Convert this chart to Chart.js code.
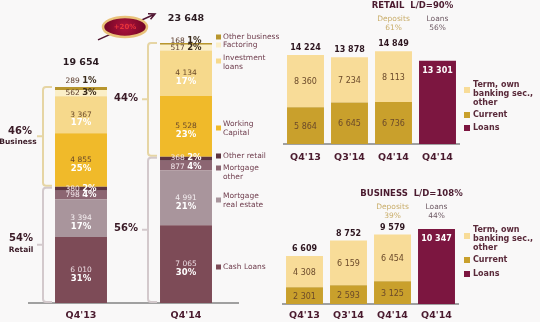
<!DOCTYPE html>
<html>
<head>
<meta charset="utf-8">
<script src="https://cdn.jsdelivr.net/npm/chart.js@4.4.1/dist/chart.umd.min.js"></script>
<style>
  body { margin: 0; background: #f9f8f8; }
  #wrap { position: relative; width: 540px; height: 322px; }
  canvas { position: absolute; left: 0; top: 0; }
</style>
</head>
<body>
<div id="wrap">
  <canvas id="mix" width="540" height="322"></canvas>
  <canvas id="retail" width="540" height="322"></canvas>
  <canvas id="business" width="540" height="322"></canvas>
</div>
<script>
// loan portfolio split
const portfolioQuarters = ["Q4'13", "Q4'14"];
const cashLoans = [6010, 7065];
const mortgageRealEstate = [3394, 4991];
const mortgageOther = [798, 877];
const otherRetail = [380, 368];
const workingCapital = [4855, 5528];
const investmentLoans = [3367, 4134];
const factoring = [562, 517];
const otherBusiness = [289, 168];
const segmentShares = [[31, 30], [17, 21], [4, 4], [2, 2], [25, 23], [17, 17], [3, 2], [1, 1]];
const portfolioTotals = [19654, 23648];
const businessShare = [46, 44];
const retailShare = [54, 56];
const growthLabel = '+20%';

// deposits vs loans
const depositQuarters = ["Q4'13", "Q3'14", "Q4'14", "Q4'14"];
const retailCurrent = [5864, 6645, 6736, null];
const retailTerm = [8360, 7234, 8113, null];
const retailLoans = [null, null, null, 13301];
const retailTotals = [14224, 13878, 14849];
const businessCurrent = [2301, 2593, 3125, null];
const businessTerm = [4308, 6159, 6454, null];
const businessLoans = [null, null, null, 10347];
const businessTotals = [6609, 8752, 9579];

const FONT = "'DejaVu Sans', Verdana, sans-serif";
const font = (size, bold) => (bold ? 'bold ' : '') + size + 'px ' + FONT;
const fmt = v => String(v).replace(/\B(?=(\d{3})+(?!\d))/g, ' ');
const DARK = '#3a1a26';

function pair(ctx, cx, y, num, pct, numColor, pctColor) {
  ctx.font = font(7.5);
  const w1 = ctx.measureText(num).width;
  ctx.font = font(8.5, true);
  const w2 = ctx.measureText(pct).width;
  let x = cx - (w1 + 2.5 + w2) / 2;
  ctx.textAlign = 'left';
  ctx.font = font(7.5); ctx.fillStyle = numColor; ctx.fillText(num, x, y);
  ctx.font = font(8.5, true); ctx.fillStyle = pctColor; ctx.fillText(pct, x + w1 + 2.5, y);
  ctx.textAlign = 'center';
}

function bracket(ctx, x, y1, y2, color) {
  const mid = (y1 + y2) / 2;
  ctx.strokeStyle = color;
  ctx.lineWidth = 2;
  ctx.beginPath();
  ctx.moveTo(x + 9, y1); ctx.lineTo(x + 3, y1);
  ctx.quadraticCurveTo(x, y1, x, y1 + 3);
  ctx.lineTo(x, y2 - 3);
  ctx.quadraticCurveTo(x, y2, x + 3, y2);
  ctx.lineTo(x + 9, y2);
  ctx.moveTo(x, mid); ctx.lineTo(x - 6, mid);
  ctx.stroke();
}

const mixPlugin = {
  id: 'mixNotes',
  afterDatasetsDraw(chart) {
    const ctx = chart.ctx;
    const sets = chart.data.datasets;
    const metas = sets.map((_, i) => chart.getDatasetMeta(i).data);
    ctx.save();
    ctx.textAlign = 'center';
    ctx.textBaseline = 'middle';

    // segment values
    sets.forEach((ds, i) => metas[i].forEach((bar, j) => {
      const num = fmt(ds.data[j]);
      const pct = segmentShares[i][j] + '%';
      const mid = (bar.y + bar.base) / 2;
      if (ds.thin) {
        let y = mid;
        if (i === 7) y = bar.y - [6, 2][j];
        if (i === 3 && j === 1) y = mid - 1;
        if (i === 2 && j === 1) y = mid + 1.5;
        pair(ctx, bar.x, y, num, pct, ds.numColor, ds.pctColor);
      } else {
        ctx.font = font(7.5); ctx.fillStyle = ds.numColor;
        ctx.fillText(num, bar.x, mid);
        ctx.font = font(8.5, true); ctx.fillStyle = ds.pctColor;
        ctx.fillText(pct, bar.x, mid + 8.5);
      }
    }));

    // totals
    metas[7].forEach((bar, j) => {
      ctx.font = font(9.5, true); ctx.fillStyle = '#2a1a20';
      ctx.fillText(fmt(portfolioTotals[j]), bar.x, bar.y - 24);
    });

    // business / retail brackets
    metas[0].forEach((bar, j) => {
      const bx = bar.x - bar.width / 2 - 12;
      const bizTop = metas[7][j].y, bizBot = metas[4][j].base - 1;
      const retTop = metas[3][j].y + 1, retBot = metas[0][j].base - 1;
      bracket(ctx, bx, bizTop, bizBot, '#e6d5a4');
      bracket(ctx, bx, retTop, retBot, '#d3c9cc');
      const bm = (bizTop + bizBot) / 2, rm = (retTop + retBot) / 2;
      ctx.fillStyle = DARK;
      if (j === 0) {
        ctx.font = font(10, true);
        ctx.fillText(businessShare[j] + '%', bx - 23, bm - 5);
        ctx.fillText(retailShare[j] + '%', bx - 22, rm - 6);
        ctx.font = font(7.5, true);
        ctx.fillText('Business', bx - 25, bm + 6);
        ctx.fillText('Retail', bx - 22, rm + 5);
      } else {
        ctx.font = font(10, true);
        ctx.fillText(businessShare[j] + '%', bx - 22, bm - 1);
        ctx.fillText(retailShare[j] + '%', bx - 22, rm - 1);
      }
    });

    // growth arrow
    const a0 = { x: metas[7][0].x + 17, y: metas[7][0].y - 47 };
    const a1 = { x: metas[7][1].x - 31, y: metas[7][1].y - 29 };
    const ang = Math.atan2(a1.y - a0.y, a1.x - a0.x);
    ctx.strokeStyle = '#4e1430'; ctx.lineWidth = 1.5;
    ctx.beginPath();
    ctx.moveTo(a0.x, a0.y); ctx.lineTo(a1.x, a1.y);
    ctx.moveTo(a1.x - 7 * Math.cos(ang - 0.45), a1.y - 7 * Math.sin(ang - 0.45));
    ctx.lineTo(a1.x, a1.y);
    ctx.lineTo(a1.x - 7 * Math.cos(ang + 0.45), a1.y - 7 * Math.sin(ang + 0.45));
    ctx.stroke();
    const ex = (a0.x + a1.x) / 2 - 1.5, ey = (a0.y + a1.y) / 2;
    const g = ctx.createRadialGradient(ex, ey, 2, ex, ey, 22);
    g.addColorStop(0, '#a8123a'); g.addColorStop(1, '#6e0424');
    ctx.fillStyle = g;
    ctx.strokeStyle = '#e9c27a'; ctx.lineWidth = 2.5;
    ctx.beginPath(); ctx.ellipse(ex, ey, 22, 10, 0, 0, Math.PI * 2); ctx.fill(); ctx.stroke();
    ctx.font = font(7, true); ctx.fillStyle = '#e8343a';
    ctx.fillText(growthLabel, ex, ey + 0.5);

    // legend
    const rows = [
      { ds: 7, lines: ['Other business'], y: 37, sq: 37 },
      { ds: 6, lines: ['Factoring'], y: 45, sq: 45 },
      { ds: 5, lines: ['Investment', 'loans'], y: 58, sq: 61 },
      { ds: 4, lines: ['Working', 'Capital'], y: 124, sq: 128 },
      { ds: 3, lines: ['Other retail'], y: 156, sq: 156 },
      { ds: 2, lines: ['Mortgage', 'other'], y: 168, sq: 168 },
      { ds: 1, lines: ['Mortgage', 'real estate'], y: 196, sq: 200 },
      { ds: 0, lines: ['Cash Loans'], y: 267, sq: 267 }
    ];
    ctx.textAlign = 'left';
    ctx.font = font(7.5);
    rows.forEach(r => {
      ctx.fillStyle = sets[r.ds].backgroundColor;
      ctx.fillRect(216, r.sq - 2.5, 5, 5);
      ctx.fillStyle = '#6e3c4c';
      r.lines.forEach((t, k) => ctx.fillText(t, 223, r.y + k * 9.5));
    });
    ctx.restore();
  }
};

new Chart(document.getElementById('mix'), {
  type: 'bar',
  data: {
    labels: portfolioQuarters,
    datasets: [
      { label: 'Cash Loans', data: cashLoans, backgroundColor: '#7d4b57', numColor: '#ecdce2', pctColor: '#ffffff' },
      { label: 'Mortgage real estate', data: mortgageRealEstate, backgroundColor: '#a9959c', numColor: '#f4eef0', pctColor: '#ffffff' },
      { label: 'Mortgage other', data: mortgageOther, backgroundColor: '#8c6672', numColor: '#f4e8ec', pctColor: '#ffffff', thin: true },
      { label: 'Other retail', data: otherRetail, backgroundColor: '#5e3440', numColor: '#f4e8ec', pctColor: '#ffffff', thin: true },
      { label: 'Working Capital', data: workingCapital, backgroundColor: '#f0ba2a', numColor: '#6b4a2a', pctColor: '#ffffff' },
      { label: 'Investment loans', data: investmentLoans, backgroundColor: '#f6d98c', numColor: '#6b4a2a', pctColor: '#ffffff' },
      { label: 'Factoring', data: factoring, backgroundColor: '#fbefc8', numColor: '#5a3a2a', pctColor: '#3a2a1a', thin: true },
      { label: 'Other business', data: otherBusiness, backgroundColor: '#b8962e', numColor: '#5a3a2a', pctColor: '#3a2a1a', thin: true }
    ]
  },
  options: {
    responsive: false,
    animation: false,
    layout: { padding: { left: 28.5, right: 301.5, top: 39.1, bottom: 0 } },
    datasets: { bar: { categoryPercentage: 1, barPercentage: 0.495 } },
    plugins: { legend: { display: false }, tooltip: { enabled: false } },
    scales: {
      x: {
        stacked: true,
        grid: { display: false, drawTicks: false },
        border: { display: true, color: '#a0a0a0', width: 2 },
        ticks: { font: { family: FONT, size: 9.5, weight: 'bold' }, color: '#4a1a2e', padding: 7 },
        afterFit: s => { s.height = 19; }
      },
      y: { stacked: true, display: false, min: 0, max: 24000 }
    }
  },
  plugins: [mixPlugin]
});

const depositPlugin = {
  id: 'depositNotes',
  afterDatasetsDraw(chart, args, o) {
    const ctx = chart.ctx;
    const sets = chart.data.datasets;
    const term = chart.getDatasetMeta(1).data;
    const loan = chart.getDatasetMeta(2).data;
    const li = sets[2].data.findIndex(v => v != null);
    ctx.save();
    ctx.textAlign = 'center';
    ctx.textBaseline = 'middle';
    [0, 1].forEach(d => chart.getDatasetMeta(d).data.forEach((bar, j) => {
      const v = sets[d].data[j];
      if (v == null) return;
      ctx.font = font(8); ctx.fillStyle = '#6b4a2a';
      ctx.fillText(fmt(v), bar.x, (bar.y + bar.base) / 2 + 1);
    }));
    o.totals.forEach((t, j) => {
      ctx.font = font(8, true); ctx.fillStyle = '#2e1620';
      ctx.fillText(fmt(t), term[j].x, term[j].y - 7);
    });
    const lb = loan[li];
    ctx.font = font(8, true); ctx.fillStyle = '#ffffff';
    ctx.fillText(fmt(sets[2].data[li]), lb.x, lb.y + 10);

    // title
    ctx.font = font(8.5, true); ctx.fillStyle = '#4a1a2e';
    ctx.fillText(o.title, (term[li - 1].x + lb.x) / 2 - 3, o.titleY);
    ctx.font = font(7.5);
    ctx.fillStyle = '#c9ad6a';
    ctx.fillText('Deposits', term[li - 1].x, o.subY);
    ctx.fillText(o.depositShare + '%', term[li - 1].x, o.subY + 9);
    ctx.fillStyle = '#6e5a64';
    ctx.fillText('Loans', lb.x, o.subY);
    ctx.fillText(o.loanShare + '%', lb.x, o.subY + 9);

    // legend
    ctx.textAlign = 'left';
    ctx.font = font(8, true);
    o.legend.forEach(r => {
      ctx.fillStyle = sets[r.ds].backgroundColor;
      ctx.fillRect(464, r.sq - 3, 6, 6);
      ctx.fillStyle = '#5a2a3a';
      r.lines.forEach((t, k) => ctx.fillText(t, 473, r.y + k * 9));
    });
    ctx.restore();
  }
};

function depositChart(id, current, term, loans, cfg) {
  return new Chart(document.getElementById(id), {
    type: 'bar',
    data: {
      labels: depositQuarters,
      datasets: [
        { label: 'Current', data: current, backgroundColor: '#c9a02c' },
        { label: 'Term, own banking sec., other', data: term, backgroundColor: '#f8dc98' },
        { label: 'Loans', data: loans, backgroundColor: '#7c1640' }
      ]
    },
    options: {
      responsive: false,
      animation: false,
      layout: { padding: cfg.padding },
      datasets: { bar: { categoryPercentage: 1, barPercentage: 0.84 } },
      plugins: { legend: { display: false }, tooltip: { enabled: false }, depositNotes: cfg.notes },
      scales: {
        x: {
          stacked: true,
          grid: { display: false, drawTicks: false },
          border: { display: true, color: '#a0a0a0', width: 2 },
          ticks: { font: { family: FONT, size: 9.5, weight: 'bold' }, color: '#4a1a2e', padding: cfg.tickPad },
          afterFit: s => { s.height = cfg.axisH; }
        },
        y: { stacked: true, display: false, min: 0, max: cfg.max }
      }
    },
    plugins: [depositPlugin]
  });
}

depositChart('retail', retailCurrent, retailTerm, retailLoans, {
  padding: { left: 283.5, right: 80.5, top: 44, bottom: 158 },
  axisH: 20, tickPad: 8, max: 16000,
  notes: {
    totals: retailTotals, title: 'RETAIL  L/D=90%', titleY: 6, subY: 19,
    depositShare: 61, loanShare: 56,
    legend: [
      { ds: 1, lines: ['Term, own', 'banking sec.,', 'other'], y: 85, sq: 90 },
      { ds: 0, lines: ['Current'], y: 115, sq: 115 },
      { ds: 2, lines: ['Loans'], y: 128, sq: 128 }
    ]
  }
});

depositChart('business', businessCurrent, businessTerm, businessLoans, {
  padding: { left: 282.5, right: 81.5, top: 217, bottom: 0 },
  axisH: 18, tickPad: 6, max: 12000,
  notes: {
    totals: businessTotals, title: 'BUSINESS  L/D=108%', titleY: 194, subY: 207,
    depositShare: 39, loanShare: 44,
    legend: [
      { ds: 1, lines: ['Term, own', 'banking sec.,', 'other'], y: 230, sq: 236 },
      { ds: 0, lines: ['Current'], y: 260, sq: 260 },
      { ds: 2, lines: ['Loans'], y: 274, sq: 274 }
    ]
  }
});
</script>
</body>
</html>
